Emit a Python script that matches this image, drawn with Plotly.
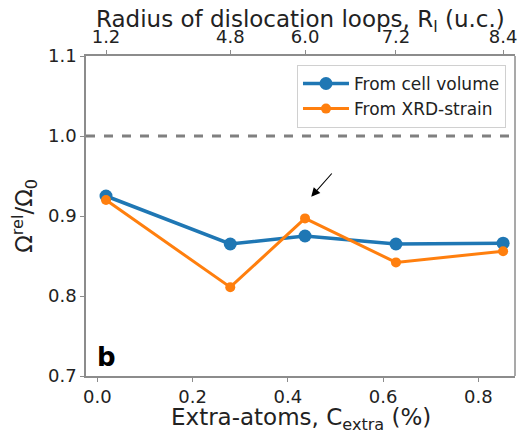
import plotly.graph_objects as go

c_extra = [0.018, 0.279, 0.436, 0.627, 0.852]
radius_labels = ["1.2", "4.8", "6.0", "7.2", "8.4"]
omega_cell = [0.925, 0.865, 0.875, 0.865, 0.866]
omega_xrd = [0.920, 0.811, 0.897, 0.842, 0.856]

blue = "#1f77b4"
orange = "#ff7f0e"
spine = "#8c8c8c"
font = "DejaVu Sans"

fig = go.Figure()
fig.add_trace(go.Scatter(x=c_extra, y=omega_cell, mode="lines+markers",
                         name="From cell volume",
                         line=dict(color=blue, width=3.5),
                         marker=dict(color=blue, size=13)))
fig.add_trace(go.Scatter(x=c_extra, y=omega_xrd, mode="lines+markers",
                         name="From XRD-strain",
                         line=dict(color=orange, width=3),
                         marker=dict(color=orange, size=10)))
fig.add_trace(go.Scatter(x=c_extra, y=omega_cell, xaxis="x2", mode="markers",
                         marker=dict(opacity=0), showlegend=False, hoverinfo="skip"))

fig.add_shape(type="line", xref="paper", x0=0, x1=1, yref="y", y0=1.0, y1=1.0,
              line=dict(color="#808080", width=3, dash="dash"), layer="below")

fig.add_annotation(x=0.449, y=0.924, ax=0.495, ay=0.955, xref="x", yref="y",
                   axref="x", ayref="y", showarrow=True, arrowhead=2,
                   arrowsize=1.6, arrowwidth=1.1, arrowcolor="black", text="")
fig.add_annotation(x=0.02, y=0.005, xref="paper", yref="paper", text="<b>b</b>",
                   showarrow=False, xanchor="left", yanchor="bottom",
                   font=dict(size=26, color="black", family=font))

# axis titles as annotations (precise placement)
title_font = dict(size=23, family=font, color="#222")
fig.add_annotation(x=0.5, y=1.108, xref="paper", yref="paper",
                   text="Radius of dislocation loops, R<sub>l</sub> (u.c.)",
                   showarrow=False, xanchor="center", yanchor="middle", font=title_font,
                   borderpad=0)
fig.add_annotation(x=0.5, y=-0.135, xref="paper", yref="paper",
                   text="Extra-atoms, C<sub>extra</sub> (%)",
                   showarrow=False, xanchor="center", yanchor="middle", font=title_font,
                   borderpad=0)
fig.add_annotation(x=-0.145, y=0.5, xref="paper", yref="paper",
                   text="Ω<sup>rel</sup>/Ω<sub>0</sub>", textangle=-90,
                   showarrow=False, xanchor="center", yanchor="middle", font=title_font,
                   borderpad=0)

axis_common = dict(showgrid=False, zeroline=False, showline=True, linecolor=spine,
                   linewidth=1.5, ticks="outside", ticklen=4, tickcolor=spine,
                   tickfont=dict(size=18, color="#222", family=font), mirror=False,
                   automargin=False)

# page body has an 8px default margin, so the figure is sized to fit the window
fig.update_layout(
    width=521, height=431,
    margin=dict(l=78, r=14, t=48, b=63),
    paper_bgcolor="white", plot_bgcolor="white",
    font=dict(family=font, color="#222"),
    xaxis=dict(range=[-0.024, 0.877], tickvals=[0.0, 0.2, 0.4, 0.6, 0.8],
               tickformat=".1f", **axis_common),
    xaxis2=dict(range=[-0.024, 0.877], overlaying="x", side="top",
                tickvals=c_extra, ticktext=radius_labels, **axis_common),
    yaxis=dict(range=[0.7, 1.1], tickvals=[0.7, 0.8, 0.9, 1.0, 1.1], tickformat=".1f",
               **axis_common),
    legend=dict(x=0.979, y=0.972, xanchor="right", yanchor="top", itemwidth=46,
                bgcolor="rgba(255,255,255,0.9)", bordercolor="#d0d0d0", borderwidth=1,
                font=dict(size=17, family=font, color="#222")),
)
fig.add_shape(type="line", xref="paper", yref="paper", x0=1, x1=1, y0=0, y1=1,
              line=dict(color=spine, width=1.5))

fig.write_html("out.html")
